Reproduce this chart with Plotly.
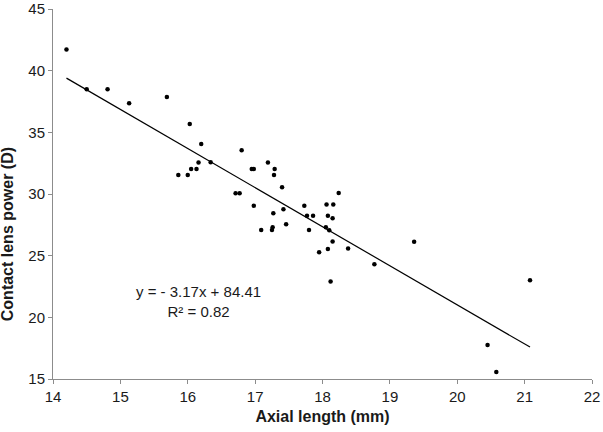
import plotly.graph_objects as go

# Axial length (mm)
axial_length = [14.20, 14.50, 14.81, 15.13, 15.69, 16.03, 16.20, 16.80, 16.34, 16.16,
                16.05, 16.13, 15.86, 16.00, 16.71, 16.77, 16.95, 16.98, 17.19, 17.29,
                17.28, 17.40, 16.98, 17.27, 17.42, 17.46, 17.09, 17.25, 17.26, 17.73,
                18.06, 18.16, 18.24, 17.77, 17.86, 18.08, 18.15, 17.80, 18.05, 18.10,
                18.15, 18.08, 17.95, 18.38, 18.77, 18.12, 19.36, 21.08, 20.45, 20.58]
# Contact lens power (D)
lens_power = [41.71, 38.49, 38.49, 37.36, 37.87, 35.68, 34.06, 33.55, 32.58, 32.55,
              32.03, 32.03, 31.55, 31.55, 30.06, 30.06, 32.03, 32.03, 32.55, 32.03,
              31.55, 30.55, 29.04, 28.44, 28.77, 27.55, 27.09, 27.09, 27.31, 29.04,
              29.14, 29.14, 30.09, 28.23, 28.23, 28.23, 28.04, 27.09, 27.31, 27.07,
              26.14, 25.55, 25.28, 25.58, 24.31, 22.90, 26.12, 23.01, 17.75, 15.56]

slope = -3.17
intercept = 84.41
r_squared = 0.82

x_ticks = [14, 15, 16, 17, 18, 19, 20, 21, 22]
y_ticks = [15, 20, 25, 30, 35, 40, 45]

x_min, x_max = min(axial_length), max(axial_length)
fit_x = [x_min, x_max]
fit_y = [slope * v + intercept for v in fit_x]

FONT = "Liberation Sans, Arial, sans-serif"
TXT = "#1a1a1a"
AX = "#8c8c8c"

fig = go.Figure()
fig.add_trace(go.Scatter(x=fit_x, y=fit_y, mode="lines",
                         line=dict(color="black", width=1.2), hoverinfo="skip"))
fig.add_trace(go.Scatter(x=axial_length, y=lens_power, mode="markers",
                         marker=dict(color="black", size=4.5)))

fig.update_layout(
    width=603, height=432,
    margin=dict(l=53, r=11, t=9, b=53, autoexpand=False),
    paper_bgcolor="white", plot_bgcolor="white",
    showlegend=False,
    font=dict(family=FONT, size=15, color=TXT),
    xaxis=dict(range=[14, 22], tickvals=x_ticks, ticks="outside", ticklen=4,
               tickcolor=AX, showline=True, linecolor=AX, linewidth=1,
               showgrid=False, zeroline=False, automargin=False,
               tickfont=dict(family=FONT, size=15, color=TXT),
               title=dict(text="<b>Axial length (mm)</b>",
                          font=dict(family=FONT, size=16, color=TXT), standoff=6)),
    yaxis=dict(range=[15, 45], tickvals=y_ticks, ticks="outside", ticklen=4,
               tickcolor=AX, showline=True, linecolor=AX, linewidth=1,
               showgrid=False, zeroline=False, automargin=False,
               tickfont=dict(family=FONT, size=15, color=TXT)),
    annotations=[
        dict(text="<b>Contact lens power (D)</b>", xref="paper", yref="paper",
             x=-0.083, y=0.392, textangle=-90, showarrow=False,
             xanchor="center", yanchor="middle",
             font=dict(family=FONT, size=16, color=TXT)),
        dict(text="y = - 3.17x + 84.41<br>R² = 0.82", xref="x", yref="y",
             x=16.16, y=21.3, showarrow=False, align="center",
             xanchor="center", yanchor="middle",
             font=dict(family=FONT, size=15, color=TXT)),
    ],
)

fig.write_html("out.html", config={"displayModeBar": False},
               post_script="document.body.style.margin='0';")
